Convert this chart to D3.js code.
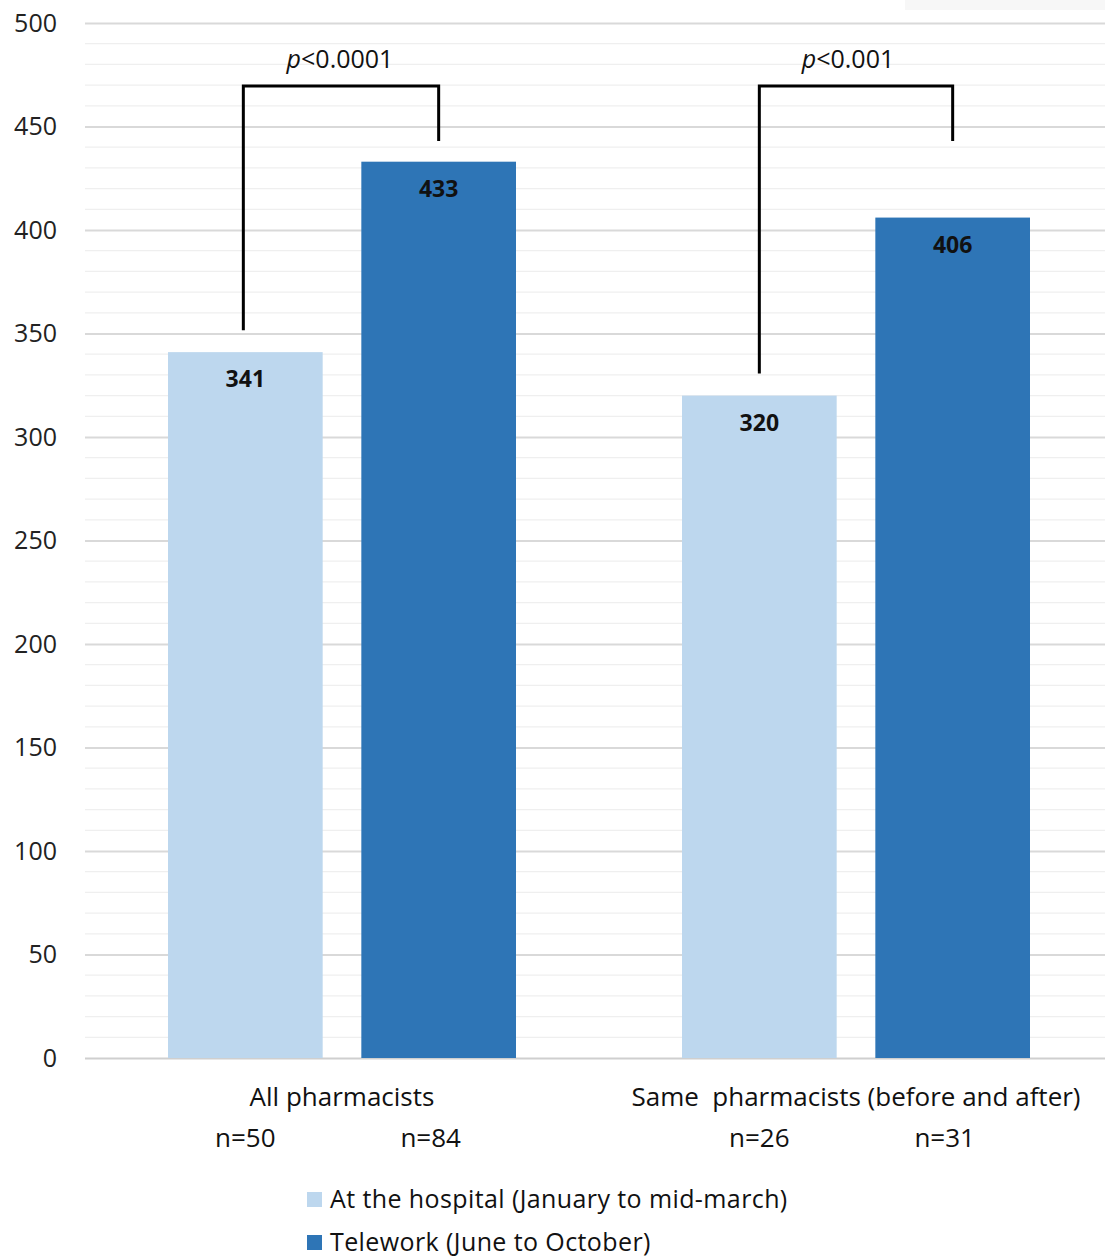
<!DOCTYPE html>
<html><head><meta charset="utf-8">
<script src="https://cdn.jsdelivr.net/npm/d3@7"></script>
<style>body{margin:0;background:#fff}svg{display:block}</style>
</head><body>
<script>
const groups = ["All pharmacists", "Same  pharmacists (before and after)"];
const seriesNames = ["At the hospital (January to mid-march)", "Telework (June to October)"];
const hospital = [341, 320];
const telework = [433, 406];
const nHospital = ["n=50", "n=26"];
const nTelework = ["n=84", "n=31"];
const pValues = ["<0.0001", "<0.001"];
const yTicks = [0, 50, 100, 150, 200, 250, 300, 350, 400, 450, 500];
const colors = ["#BDD7EE", "#2E75B6"];

const W = 1105, H = 1260;
const font = "'Open Sans', 'DejaVu Sans', sans-serif";
const svg = d3.select("body").append("svg").attr("width", W).attr("height", H);

const y = d3.scaleLinear().domain([0, 500]).range([1058, 23]);
const x0 = d3.scaleBand().domain(groups).range([85, 1113]);
const x1 = d3.scaleBand().domain([0, 1]).range([83, 514 - 83]).paddingInner(0.2);

// minor gridlines
const minor = d3.range(0, 501, 10).filter(v => v % 50 !== 0);
svg.append("g").selectAll("line").data(minor).join("line")
  .attr("x1", 85).attr("x2", W).attr("y1", d => y(d)).attr("y2", d => y(d))
  .attr("stroke", "#efefef").attr("stroke-width", 1.2);
// major gridlines via axis
const yAxis = svg.append("g").attr("transform", "translate(85,0)")
  .call(d3.axisLeft(y).tickValues(yTicks).tickSize(-(W - 85)).tickPadding(28));
yAxis.select(".domain").remove();
yAxis.selectAll(".tick line").attr("stroke", d => d === 0 ? "#cfcfcf" : "#d9d9d9").attr("stroke-width", 2);
yAxis.selectAll(".tick text").attr("font-family", font).attr("font-size", 25).attr("fill", "#222");

// faint box top-right
svg.append("rect").attr("x", 905).attr("y", 0).attr("width", 200).attr("height", 10).attr("fill", "#f7f7f7");

const data = groups.map((g, i) => ({g, vals: [hospital[i], telework[i]], ns: [nHospital[i], nTelework[i]], p: pValues[i]}));

const gg = svg.append("g").selectAll("g").data(data).join("g")
  .attr("transform", d => `translate(${x0(d.g)},0)`);

gg.selectAll("rect").data(d => d.vals.map((v, k) => ({v, k}))).join("rect")
  .attr("x", d => x1(d.k)).attr("width", x1.bandwidth())
  .attr("y", d => y(d.v)).attr("height", d => y(0) - y(d.v))
  .attr("fill", d => colors[d.k]);

gg.selectAll("text.val").data(d => d.vals.map((v, k) => ({v, k}))).join("text")
  .attr("class", "val")
  .attr("x", d => x1(d.k) + x1.bandwidth() / 2).attr("y", d => y(d.v) + 35)
  .attr("text-anchor", "middle").attr("font-family", font).attr("font-weight", 700)
  .attr("font-size", 23).attr("fill", "#111").text(d => d.v);

// brackets
gg.append("path")
  .attr("d", (d, i) => {
    const xa = x1(0) + x1.bandwidth() / 2 - 2 + i * 2, xb = x1(1) + x1.bandwidth() / 2;
    const top = y(500) + 63;
    return `M${xa},${y(d.vals[0]) - 22}V${top}H${xb}V${y(443)}`;
  })
  .attr("fill", "none").attr("stroke", "#000").attr("stroke-width", 3);

gg.append("text")
  .attr("x", (d, i) => 255 - i * 6).attr("y", 68).attr("text-anchor", "middle")
  .attr("font-family", font).attr("font-size", 25).attr("fill", "#111")
  .call(t => { t.append("tspan").attr("font-style", "italic").text("p"); t.append("tspan").text(d => d.p); });

// category labels
gg.append("text").attr("x", 257).attr("y", 1106).attr("text-anchor", "middle")
  .attr("font-family", font).attr("font-size", 26).attr("fill", "#111")
  .attr("xml:space", "preserve").text(d => d.g);
gg.selectAll("text.n").data(d => d.ns.map((n, k) => ({n, k}))).join("text").attr("class", "n")
  .attr("x", d => x1(d.k) + x1.bandwidth() / 2 - d.k * 8).attr("y", 1147).attr("text-anchor", "middle")
  .attr("font-family", font).attr("font-size", 26).attr("fill", "#111").text(d => d.n);

// legend
const lg = svg.append("g").selectAll("g").data(seriesNames).join("g")
  .attr("transform", (d, i) => `translate(307,${1192 + i * 43})`);
lg.append("rect").attr("width", 15).attr("height", 15).attr("fill", (d, i) => colors[i]);
lg.append("text").attr("x", 23).attr("y", 16).attr("font-family", font).attr("font-size", 25)
  .attr("letter-spacing", 0.4).attr("fill", "#111").text(d => d);
</script>
</body></html>
